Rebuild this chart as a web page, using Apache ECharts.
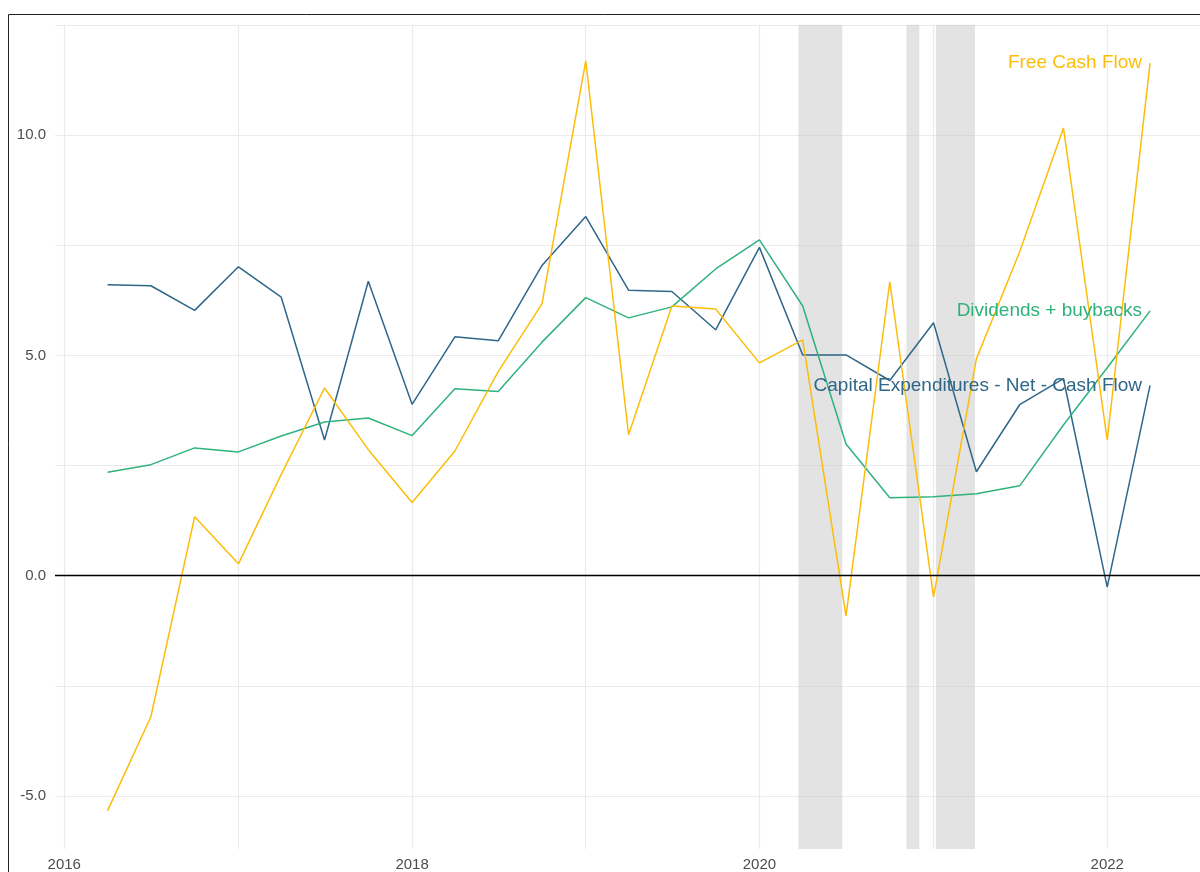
<!DOCTYPE html>
<html>
<head>
<meta charset="utf-8">
<title>Cash flow</title>
<script src="https://cdn.jsdelivr.net/npm/echarts@6/dist/echarts.min.js"></script>
<style>
	html,body{margin:0;padding:0;background:#fff;}
	#myCashChart{width:1200px;height:872px;}
</style>
</head>
<body>
<div id="myCashChart"></div>
<script>
// quarterly dates
var quarters = ['2016-04-01','2016-07-01','2016-10-01','2017-01-01','2017-04-01','2017-07-01','2017-10-01',
	'2018-01-01','2018-04-01','2018-07-01','2018-10-01','2019-01-01','2019-04-01','2019-07-01','2019-10-01',
	'2020-01-01','2020-04-01','2020-07-01','2020-10-01','2021-01-01','2021-04-01','2021-07-01','2021-10-01',
	'2022-01-01','2022-04-01'];

var capex = [6.60,6.58,6.02,7.01,6.32,3.08,6.68,3.89,5.42,5.33,7.04,8.15,6.48,6.45,5.58,7.45,5.01,5.01,4.43,5.74,2.36,3.88,4.47,-0.26,4.32];
var dividends = [2.35,2.52,2.90,2.81,3.17,3.49,3.58,3.18,4.24,4.18,5.30,6.31,5.85,6.10,6.96,7.62,6.12,2.99,1.77,1.79,1.86,2.04,3.42,4.72,6.01];
var freeCash = [-5.33,-3.20,1.34,0.27,2.30,4.26,2.86,1.66,2.83,4.63,6.17,11.68,3.20,6.12,6.05,4.83,5.35,-0.91,6.67,-0.48,4.92,7.35,10.16,3.08,11.63];

// shaded periods
var lockdownStart = ['2020-03-23','2020-11-05','2021-01-06'];
var lockdownEnd = ['2020-06-23','2020-12-02','2021-03-29'];

var yLabels = [-5, 0, 5, 10];

var fontName = 'Liberation Sans';
var gridColor = '#ebebeb';

// builds points, with the series name shown at the last point only
function makeData(vals, color){
	var res = [];
	for(var i = 0; i < vals.length; i++){
		if(i == vals.length - 1){
			res.push({
				value: [quarters[i], vals[i]],
				label: {
					show: true,
					position: 'left',
					distance: 8,
					formatter: '{a}',
					color: color,
					fontSize: 19,
					fontFamily: fontName
				}
			});
		}else{
			res.push([quarters[i], vals[i]]);
		}
	}
	return res;
}

function makeSeries(name, vals, color){
	return {
		name: name,
		type: 'line',
		data: makeData(vals, color),
		symbol: 'circle',
		symbolSize: 0.1,
		showSymbol: true,
		itemStyle: {color: color},
		lineStyle: {color: color, width: 1.5},
		emphasis: {disabled: true},
		animation: false
	};
}

var areas = [];
for(var i = 0; i < lockdownStart.length; i++){
	areas.push([{xAxis: lockdownStart[i]}, {xAxis: lockdownEnd[i]}]);
}

var cashSeries = [
	makeSeries('Capital Expenditures - Net - Cash Flow', capex, '#2f6689'),
	makeSeries('Dividends + buybacks', dividends, '#2fb27c'),
	makeSeries('Free Cash Flow', freeCash, '#fcbd0a')
];

// zero line and grey periods sit on top of the lines
cashSeries[2].markLine = {
	silent: true,
	z: 4,
	symbol: ['none','none'],
	label: {show: false},
	lineStyle: {color: '#000', width: 1.4, type: 'solid'},
	data: [{yAxis: 0}],
	animation: false
};
cashSeries[2].markArea = {
	silent: true,
	z: 3,
	itemStyle: {color: 'rgba(200,200,200,0.5)'},
	data: areas,
	animation: false
};

var myCashChart = echarts.init(document.getElementById('myCashChart'));

var option = {
	backgroundColor: '#fff',
	animation: false,
	grid: {
		left: 55,
		right: 0,
		top: 24.8,
		height: 824.8
	},
	xAxis: {
		type: 'time',
		min: '2015-12-12 12:00:00',
		max: '2022-07-15',
		minInterval: 365 * 24 * 3600 * 1000,
		maxInterval: 366 * 24 * 3600 * 1000,
		axisLine: {show: false, onZero: false},
		axisTick: {show: false},
		splitLine: {show: true, showMinLine: false, showMaxLine: false, lineStyle: {color: gridColor, width: 1.2}},
		axisLabel: {
			margin: 8,
			color: '#4d4d4d',
			fontSize: 15,
			fontFamily: fontName,
			formatter: function(val){
				var y = new Date(val).getFullYear();
				return (y % 2 == 0) ? String(y) : '';
			}
		}
	},
	yAxis: {
		type: 'value',
		min: -6.2,
		max: 12.5,
		minInterval: 2.5,
		maxInterval: 2.5,
		axisLine: {show: false},
		axisTick: {show: false},
		splitLine: {show: true, showMinLine: false, lineStyle: {color: gridColor, width: 1.2}},
		axisLabel: {
			margin: 9,
			color: '#4d4d4d',
			fontSize: 15,
			fontFamily: fontName,
			formatter: function(v){
				for(var i = 0; i < yLabels.length; i++){
					if(Math.abs(v - yLabels[i]) < 1e-6) return v.toFixed(1);
				}
				return '';
			}
		}
	},
	series: cashSeries,
	graphic: {
		elements: [
			{
				type: 'rect',
				z: 100,
				silent: true,
				shape: {x: 8.5, y: 14.5, width: 1400, height: 1000},
				style: {fill: null, stroke: '#222', lineWidth: 1}
			}
		]
	}
};

myCashChart.setOption(option);
</script>
</body>
</html>
